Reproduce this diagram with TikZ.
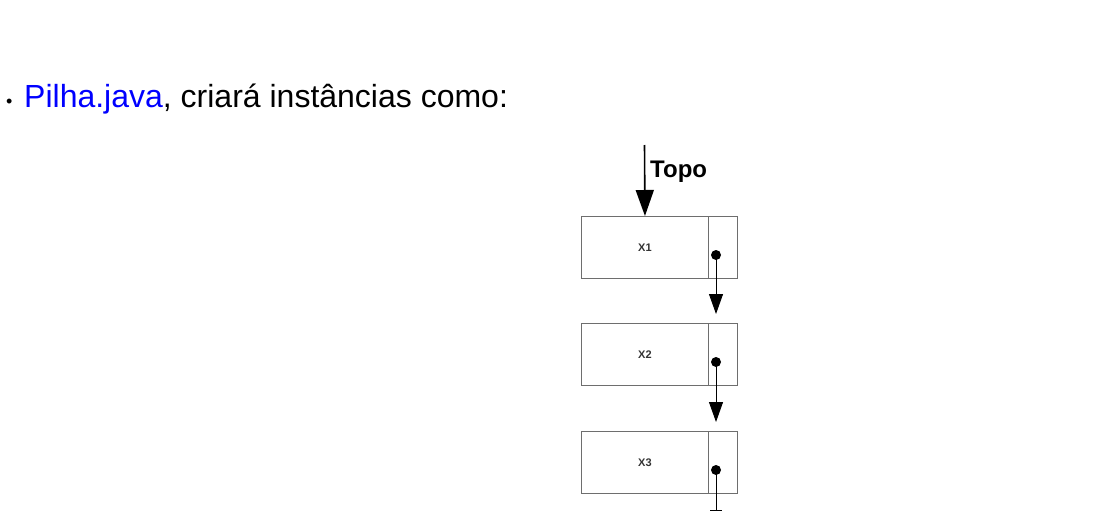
\documentclass[tikz,border=0pt]{standalone}
\usepackage{fontspec}
\setmainfont{Liberation Sans}
\usetikzlibrary{arrows.meta,calc}
\definecolor{boxgray}{RGB}{110,110,110}
\definecolor{linkblue}{RGB}{0,0,255}
\tikzset{
  datapart/.style={draw=boxgray,line width=0.9pt,minimum width=127pt,minimum height=62pt,inner sep=0pt,anchor=north west,font=\fontsize{11}{12}\selectfont\bfseries,text=black!80},
  ptrpart/.style={draw=boxgray,line width=0.9pt,minimum width=29pt,minimum height=62pt,inner sep=0pt,anchor=north west},
  ptrdot/.style={circle,fill=black,inner sep=0pt,minimum size=10pt},
  link/.style={line width=0.9pt,-{Triangle[width=14pt,length=20pt]},shorten >=9pt},
  topoarrow/.style={line width=1.6pt,-{Triangle[width=18pt,length=26pt]}},
}
\begin{document}
\begin{tikzpicture}[x=1pt,y=-1pt]
\useasboundingbox (0,0) rectangle (1099,511);
% heading
\node[anchor=base west,inner sep=0pt,font=\fontsize{18}{20}\selectfont] (bul) at (6,107) {•};
\node[anchor=base west,inner sep=0pt,font=\fontsize{32}{36}\selectfont] (head) at (24,107) {\textcolor{linkblue}{Pilha.java}, criará instâncias como:};
% boxes
\node[datapart] (x1) at (581,216) {X1};
\node[ptrpart] (p1) at (708,216) {};
\node[datapart] (x2) at (581,323) {X2};
\node[ptrpart] (p2) at (708,323) {};
\node[datapart] (x3) at (581,431) {X3};
\node[ptrpart] (p3) at (708,431) {};
% pointer dots
\node[ptrdot] (d1) at (716,255) {};
\node[ptrdot] (d2) at (716,362) {};
\node[ptrdot] (d3) at (716,470) {};
% links
\draw[link] (d1.center) -- (d1 |- p2.north);
\draw[link] (d2.center) -- (d2 |- p3.north);
\coordinate (endp) at (716,511);
\draw[line width=0.9pt] (d3.center) -- (endp);
\draw[line width=0.9pt] ($(endp)+(-6,-1)$) -- ($(endp)+(6,-1)$);
% topo
\coordinate (topstart) at (644.5,145);
\draw[topoarrow] (topstart) -- (x1.north);
\node[anchor=base west,inner sep=0pt,font=\fontsize{24}{26}\selectfont\bfseries] (topo) at (650,177) {Topo};
\end{tikzpicture}
\end{document}
